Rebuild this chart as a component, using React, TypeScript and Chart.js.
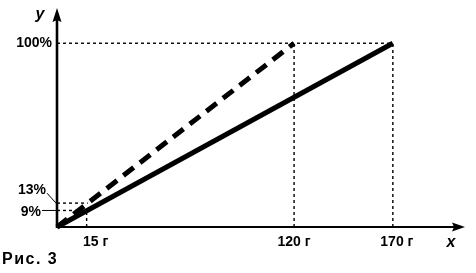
import { useEffect, useRef } from "react";
import { Chart, registerables } from "chart.js";

Chart.register(...registerables);

// ---- data ----
const xTicks = [15, 120, 170];
const xTickLabels = ["15 г", "120 г", "170 г"];
const yTicks = [9, 13, 100];
const yTickLabels = ["9%", "13%", "100%"];
const solidX = [0, 170];
const solidY = [0, 100];
const dashedX = [0, 120];
const dashedY = [0, 100];
const xAxisTitle = "x";
const yAxisTitle = "y";
const caption = "Рис. 3";

const FONT = "'Liberation Sans', Arial, sans-serif";

const schemePlugin = {
  id: "scheme",
  beforeDatasetsDraw(chart: any) {
    const ctx = chart.ctx;
    const xs = chart.scales.x;
    const ys = chart.scales.y;
    const X = (v: number) => xs.getPixelForValue(v);
    const Y = (v: number) => ys.getPixelForValue(v);
    ctx.save();
    ctx.strokeStyle = "#000";
    ctx.lineWidth = 1.4;
    ctx.setLineDash([3, 3]);
    const seg = (x1: number, y1: number, x2: number, y2: number) => {
      ctx.beginPath();
      ctx.moveTo(X(x1), Y(y1));
      ctx.lineTo(X(x2), Y(y2));
      ctx.stroke();
    };
    const top = yTicks[2];
    seg(0, top, xTicks[2], top);
    seg(xTicks[1], 0, xTicks[1], top);
    seg(xTicks[2], 0, xTicks[2], top);
    seg(xTicks[0], 0, xTicks[0], yTicks[0]);
    seg(0, yTicks[0], xTicks[0], yTicks[0]);
    const xDashAt13 = (yTicks[1] / dashedY[1]) * dashedX[1];
    seg(0, yTicks[1], xDashAt13, yTicks[1]);
    ctx.restore();
  },
  afterDatasetsDraw(chart: any) {
    const ctx = chart.ctx;
    const xs = chart.scales.x;
    const ys = chart.scales.y;
    const X = (v: number) => xs.getPixelForValue(v);
    const Y = (v: number) => ys.getPixelForValue(v);
    const ca = chart.chartArea;
    const ox = X(0);
    const oy = Y(0);
    ctx.save();
    ctx.strokeStyle = "#000";
    ctx.fillStyle = "#000";
    ctx.setLineDash([]);
    // y axis
    ctx.lineWidth = 2.6;
    ctx.beginPath();
    ctx.moveTo(ox, oy + 1);
    ctx.lineTo(ox, ca.top + 8);
    ctx.stroke();
    ctx.beginPath();
    ctx.moveTo(ox, ca.top - 4);
    ctx.lineTo(ox - 4.5, ca.top + 10);
    ctx.lineTo(ox, ca.top + 8);
    ctx.lineTo(ox + 4.5, ca.top + 10);
    ctx.closePath();
    ctx.fill();
    // x axis
    ctx.lineWidth = 2.2;
    ctx.beginPath();
    ctx.moveTo(ox - 1, oy);
    ctx.lineTo(ca.right - 6, oy);
    ctx.stroke();
    ctx.beginPath();
    ctx.moveTo(ca.right + 3, oy);
    ctx.lineTo(ca.right - 10, oy - 4.5);
    ctx.lineTo(ca.right - 8, oy);
    ctx.lineTo(ca.right - 10, oy + 4.5);
    ctx.closePath();
    ctx.fill();

    // tick labels
    ctx.font = `bold 14px ${FONT}`;
    ctx.textBaseline = "middle";
    ctx.textAlign = "center";
    const xOff = [9, 0, 4];
    xTicks.forEach((v, i) => {
      ctx.fillText(xTickLabels[i], X(v) + xOff[i], oy + 15);
    });
    ctx.textAlign = "right";
    ctx.fillText(yTickLabels[2], ox - 5, Y(yTicks[2]));
    const y13 = Y(yTicks[1]);
    const y13t = y13 - 13;
    ctx.fillText(yTickLabels[1], ox - 11, y13t);
    const y9 = Y(yTicks[0]);
    const y9t = y9 + 2;
    ctx.fillText(yTickLabels[0], ox - 16, y9t);
    ctx.lineWidth = 1;
    ctx.beginPath();
    ctx.moveTo(ox - 10, y13t + 3);
    ctx.lineTo(ox - 1, y13);
    ctx.moveTo(ox - 15, y9t - 2);
    ctx.lineTo(ox - 1, y9);
    ctx.stroke();

    // axis titles
    ctx.font = `italic bold 16px ${FONT}`;
    ctx.textAlign = "center";
    ctx.fillText(yAxisTitle, ox - 17, ca.top + 3);
    ctx.fillText(xAxisTitle, ca.right - 11, oy + 16);

    // caption
    ctx.font = `bold 16px ${FONT}`;
    (ctx as any).letterSpacing = "1.5px";
    ctx.textAlign = "left";
    ctx.fillText(caption, 2, oy + 33);
    ctx.restore();
  },
};

export default function App() {
  const ref = useRef<HTMLCanvasElement | null>(null);
  useEffect(() => {
    if (!ref.current) return;
    const chart = new Chart(ref.current, {
      type: "line",
      data: {
        datasets: [
          {
            data: dashedX.map((x, i) => ({ x, y: dashedY[i] })),
            borderColor: "#000",
            borderWidth: 5,
            borderDash: [13, 8],
            borderCapStyle: "butt",
            pointRadius: 0,
            clip: false as any,
          },
          {
            data: solidX.map((x, i) => ({ x, y: solidY[i] })),
            borderColor: "#000",
            borderWidth: 5,
            borderCapStyle: "butt",
            pointRadius: 0,
            clip: false as any,
          },
        ],
      },
      options: {
        responsive: false,
        animation: false,
        layout: { padding: { left: 57, right: 14, top: 12, bottom: 46 } },
        plugins: { legend: { display: false }, tooltip: { enabled: false } },
        scales: {
          x: { type: "linear", min: 0, max: 205, display: false },
          y: { type: "linear", min: 0, max: 117, display: false },
        },
      },
      plugins: [schemePlugin],
    });
    return () => chart.destroy();
  }, []);
  return (
    <div style={{ position: "absolute", left: 0, top: 0, width: 476, height: 273, background: "#fff" }}>
      <canvas ref={ref} width={476} height={273} style={{ width: 476, height: 273 }} />
    </div>
  );
}
